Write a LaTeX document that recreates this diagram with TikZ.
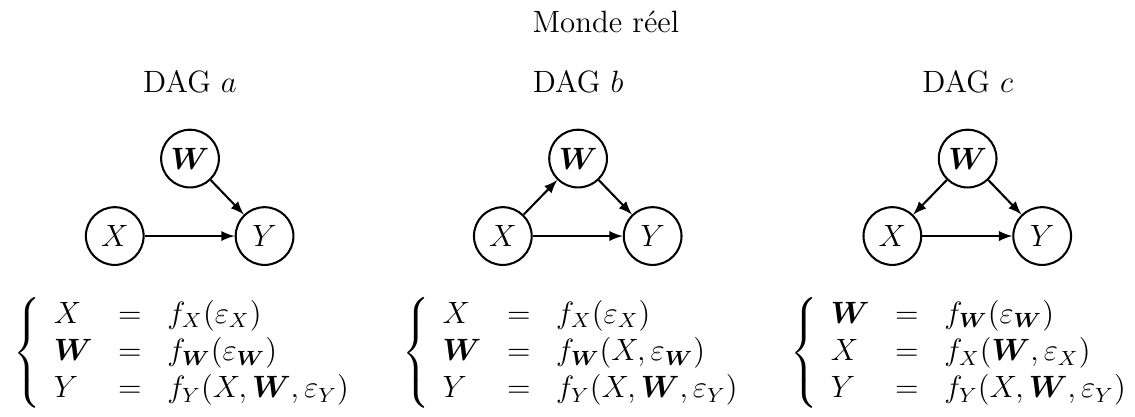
\documentclass[12pt,tikz,border=0pt]{standalone}
\usepackage{amsmath,bm}
\usetikzlibrary{positioning}

\begin{document}
\begin{tikzpicture}[
    on grid,
    node distance=1.06cm and 1.03cm,
    var/.style={circle, draw, thick, minimum size=7.9mm, inner sep=0pt},
    edge/.style={-latex, thick},
    eqs/.style={anchor=west, inner sep=0pt},
]
\useasboundingbox (0,0) rectangle (15.53,-5.70);

\node[anchor=base] (world) at (8.29,-0.44) {Monde réel};

% DAG a
\node[var] (Xa) at (1.57,-3.23) {$X$};
\node[var, right=2.05cm of Xa] (Ya) {$Y$};
\node[var, above right=of Xa] (Wa) {$\bm{W}$};
\node[anchor=base] (ta) at (2.60,-1.26) {DAG $a$};
\draw[edge] (Xa) -- (Ya);
\draw[edge] (Wa) -- (Ya);
\node[eqs] (eqa) at (0.18,-4.83)
    {$\left\{\begin{array}{lcl}
        X & = & f_X(\varepsilon_X)\\
        \bm{W} & = & f_{\bm{W}}(\varepsilon_{\bm{W}})\\
        Y & = & f_Y(X,\bm{W},\varepsilon_Y)
     \end{array}\right.$};

% DAG b
\node[var] (Xb) at (6.88,-3.23) {$X$};
\node[var, right=2.05cm of Xb] (Yb) {$Y$};
\node[var, above right=of Xb] (Wb) {$\bm{W}$};
\node[anchor=base] (tb) at (7.91,-1.26) {DAG $b$};
\draw[edge] (Xb) -- (Yb);
\draw[edge] (Xb) -- (Wb);
\draw[edge] (Wb) -- (Yb);
\node[eqs] (eqb) at (5.50,-4.83)
    {$\left\{\begin{array}{lcl}
        X & = & f_X(\varepsilon_X)\\
        \bm{W} & = & f_{\bm{W}}(X,\varepsilon_{\bm{W}})\\
        Y & = & f_Y(X,\bm{W},\varepsilon_Y)
     \end{array}\right.$};

% DAG c
\node[var] (Xc) at (12.21,-3.23) {$X$};
\node[var, right=2.05cm of Xc] (Yc) {$Y$};
\node[var, above right=of Xc] (Wc) {$\bm{W}$};
\node[anchor=base] (tc) at (13.24,-1.26) {DAG $c$};
\draw[edge] (Xc) -- (Yc);
\draw[edge] (Wc) -- (Xc);
\draw[edge] (Wc) -- (Yc);
\node[eqs] (eqc) at (10.81,-4.83)
    {$\left\{\begin{array}{lcl}
        \bm{W} & = & f_{\bm{W}}(\varepsilon_{\bm{W}})\\
        X & = & f_X(\bm{W},\varepsilon_X)\\
        Y & = & f_Y(X,\bm{W},\varepsilon_Y)
     \end{array}\right.$};

\end{tikzpicture}
\end{document}
